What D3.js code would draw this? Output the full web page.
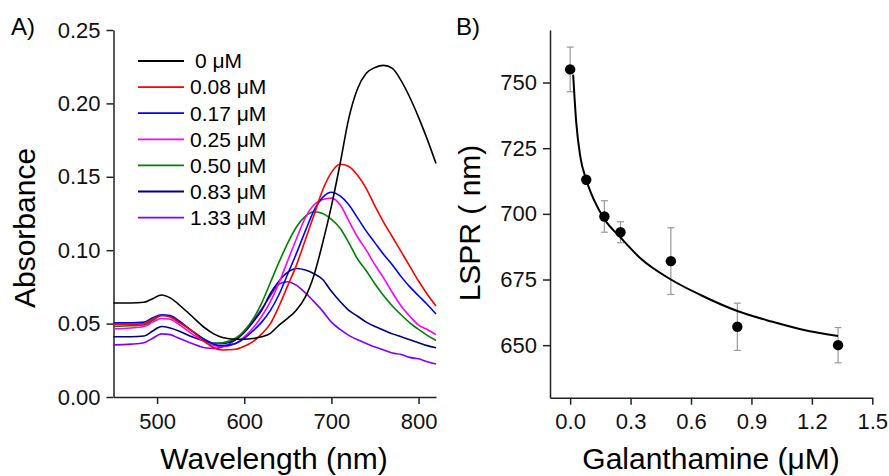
<!DOCTYPE html>
<html>
<head>
<meta charset="utf-8">
<script src="https://cdn.jsdelivr.net/npm/d3@7"></script>
<style>
  body { margin: 0; background: #fff; }
  svg { display: block; font-family: "Liberation Sans", Arial, sans-serif; }
  .axis path, .axis line { stroke: #222; stroke-width: 1.5; }
  .axis text { font-size: 22px; fill: #111; }
</style>
</head>
<body>
<svg id="chart" width="889" height="476"></svg>
<script>
// Panel A: UV-vis spectra
const wavelengths = [450, 470, 485, 495, 505, 515, 525, 540, 555, 565, 575, 590, 600, 610, 620, 630, 640, 650, 660, 670, 680, 690, 700, 710, 720, 730, 740, 750, 760, 770, 780, 790, 800, 810, 820];
const abs0 = [0.064, 0.064, 0.0645, 0.067, 0.0695, 0.0675, 0.063, 0.055, 0.047, 0.043, 0.0405, 0.0393, 0.0393, 0.0398, 0.041, 0.0434, 0.049, 0.0537, 0.0593, 0.068, 0.083, 0.105, 0.13, 0.159, 0.19, 0.21, 0.2205, 0.2245, 0.2259, 0.2238, 0.2155, 0.204, 0.1905, 0.1755, 0.159];
const abs008 = [0.0495, 0.0495, 0.05, 0.053, 0.0555, 0.0545, 0.051, 0.045, 0.0375, 0.0335, 0.032, 0.0325, 0.0345, 0.0377, 0.043, 0.05, 0.062, 0.076, 0.09, 0.107, 0.124, 0.141, 0.153, 0.1585, 0.157, 0.151, 0.142, 0.13, 0.119, 0.109, 0.099, 0.089, 0.079, 0.07, 0.062];
const abs017 = [0.0505, 0.0505, 0.051, 0.054, 0.056, 0.0555, 0.052, 0.045, 0.039, 0.036, 0.035, 0.0365, 0.04, 0.045, 0.051, 0.059, 0.07, 0.084, 0.098, 0.113, 0.127, 0.136, 0.1395, 0.137, 0.131, 0.122, 0.113, 0.105, 0.097, 0.09, 0.082, 0.075, 0.069, 0.063, 0.0565];
const abs025 = [0.0465, 0.047, 0.048, 0.051, 0.0535, 0.053, 0.0495, 0.043, 0.0375, 0.035, 0.0345, 0.0365, 0.041, 0.047, 0.055, 0.065, 0.078, 0.093, 0.108, 0.122, 0.131, 0.1345, 0.1355, 0.131, 0.12, 0.109, 0.1, 0.09, 0.081, 0.071, 0.062, 0.055, 0.049, 0.046, 0.0425];
const abs050 = [0.048, 0.0485, 0.049, 0.052, 0.0555, 0.055, 0.051, 0.045, 0.039, 0.0365, 0.037, 0.04, 0.045, 0.053, 0.064, 0.078, 0.092, 0.105, 0.116, 0.123, 0.1262, 0.125, 0.121, 0.115, 0.105, 0.094, 0.086, 0.077, 0.069, 0.062, 0.056, 0.0505, 0.046, 0.042, 0.0385];
const abs083 = [0.041, 0.041, 0.0415, 0.045, 0.048, 0.047, 0.045, 0.041, 0.038, 0.0366, 0.0365, 0.039, 0.044, 0.051, 0.059, 0.0705, 0.079, 0.085, 0.0875, 0.0865, 0.084, 0.08, 0.072, 0.065, 0.059, 0.055, 0.051, 0.048, 0.0455, 0.043, 0.041, 0.039, 0.037, 0.035, 0.0335];
const abs133 = [0.0355, 0.036, 0.037, 0.04, 0.043, 0.0425, 0.04, 0.0365, 0.0335, 0.033, 0.034, 0.039, 0.045, 0.052, 0.06, 0.069, 0.077, 0.0785, 0.076, 0.071, 0.065, 0.0585, 0.051, 0.046, 0.042, 0.039, 0.0365, 0.034, 0.032, 0.03, 0.029, 0.027, 0.026, 0.024, 0.0225];
const seriesLabels = ['0 \u03bcM', '0.08 \u03bcM', '0.17 \u03bcM', '0.25 \u03bcM', '0.50 \u03bcM', '0.83 \u03bcM', '1.33 \u03bcM'];
const seriesColors = ['#000000', '#ff0000', '#0000ff', '#ff00ff', '#008000', '#000080', '#8000ff'];
const absTicks = [0, 0.05, 0.1, 0.15, 0.2, 0.25];
const wlTicks = [500, 600, 700, 800];

// Panel B: LSPR peak vs concentration
const conc = [0, 0.08, 0.17, 0.25, 0.5, 0.83, 1.33];
const lspr = [755, 713, 699, 693, 682, 657, 650];
const lsprErr = [8.5, 0, 6, 4, 12.7, 9, 6.7];
const fitConc = [0.015, 0.03, 0.05, 0.08, 0.12, 0.17, 0.25, 0.35, 0.5, 0.65, 0.83, 1.0, 1.15, 1.33];
const fitLspr = [753, 735, 722, 713, 705, 698, 691, 683, 675, 669, 663, 659, 656, 653.5];
const concTicks = [0, 0.3, 0.6, 0.9, 1.2, 1.5];
const lsprTicks = [650, 675, 700, 725, 750];

const svg = d3.select('#chart');

// ---------- Panel A ----------
const xA = d3.scaleLinear().domain([450, 820]).range([113.5, 436]);
const yA = d3.scaleLinear().domain([0, 0.25]).range([397, 30]);

svg.append('g')
  .attr('class', 'axis')
  .attr('transform', `translate(0,${yA(0)})`)
  .call(d3.axisBottom(xA).tickValues(wlTicks).tickSize(7).tickPadding(6).tickSizeOuter(0))
  .selectAll('text').attr('dy', '0.85em');

svg.append('g')
  .attr('class', 'axis')
  .attr('transform', `translate(${xA(450)},0)`)
  .call(d3.axisLeft(yA).tickValues(absTicks).tickFormat(d3.format('.2f')).tickSize(7).tickPadding(6).tickSizeOuter(0));

const spectra = [abs0, abs008, abs017, abs025, abs050, abs083, abs133];
const lineA = d3.line()
  .x((d, i) => xA(wavelengths[i]))
  .y((d) => yA(d))
  .curve(d3.curveMonotoneX);

// draw the lowest concentration last so black sits on top like the original
spectra.slice().reverse().forEach((s, k) => {
  const i = spectra.length - 1 - k;
  svg.append('path')
    .attr('d', lineA(s))
    .attr('fill', 'none')
    .attr('stroke', seriesColors[i])
    .attr('stroke-width', 1.6);
});

// Legend
const legend = svg.append('g').attr('transform', 'translate(138,61)');
seriesLabels.forEach((label, i) => {
  const row = legend.append('g').attr('transform', `translate(0,${i * 26.1})`);
  row.append('line')
    .attr('x1', 0).attr('x2', 46)
    .attr('stroke', seriesColors[i])
    .attr('stroke-width', 1.8);
  row.append('text')
    .attr('x', i === 0 ? 57 : 52)
    .attr('dy', '0.35em')
    .style('font-size', '21px')
    .text(label);
});

// Titles
svg.append('text')
  .attr('x', 274).attr('y', 469)
  .attr('text-anchor', 'middle')
  .style('font-size', '30px')
  .text('Wavelength (nm)');

svg.append('text')
  .attr('transform', 'translate(35,228) rotate(-90)')
  .attr('text-anchor', 'middle')
  .style('font-size', '30px')
  .text('Absorbance');

svg.append('text')
  .attr('x', 11).attr('y', 35)
  .style('font-size', '24px')
  .text('A)');

// ---------- Panel B ----------
const xB = d3.scaleLinear().domain([-0.1, 1.5]).range([550, 872.3]);
const yB = d3.scaleLinear().domain([630, 770]).range([397.7, 30]);

svg.append('g')
  .attr('class', 'axis')
  .attr('transform', `translate(0,${yB(630)})`)
  .call(d3.axisBottom(xB).tickValues(concTicks).tickFormat(d3.format('.1f')).tickSize(7).tickPadding(6).tickSizeOuter(0))
  .selectAll('text').attr('dy', '0.85em');

svg.append('g')
  .attr('class', 'axis')
  .attr('transform', `translate(${xB(-0.1)},0)`)
  .call(d3.axisLeft(yB).tickValues(lsprTicks).tickSize(7).tickPadding(6).tickSizeOuter(0));

// Error bars
const errG = svg.append('g')
  .attr('stroke', '#9a9a9a')
  .attr('stroke-width', 1.2);
conc.forEach((c, i) => {
  if (!lsprErr[i]) return;
  const x = xB(c);
  const y1 = yB(lspr[i] + lsprErr[i]);
  const y2 = yB(lspr[i] - lsprErr[i]);
  errG.append('line').attr('x1', x).attr('x2', x).attr('y1', y1).attr('y2', y2);
  errG.append('line').attr('x1', x - 3.5).attr('x2', x + 3.5).attr('y1', y1).attr('y2', y1);
  errG.append('line').attr('x1', x - 3.5).attr('x2', x + 3.5).attr('y1', y2).attr('y2', y2);
});

// Fit curve
const lineB = d3.line()
  .x((d, i) => xB(fitConc[i]))
  .y((d) => yB(d))
  .curve(d3.curveMonotoneX);

svg.append('path')
  .attr('d', lineB(fitLspr))
  .attr('fill', 'none')
  .attr('stroke', '#000')
  .attr('stroke-width', 2);

// Points
svg.append('g')
  .selectAll('circle')
  .data(conc)
  .enter().append('circle')
  .attr('cx', (d) => xB(d))
  .attr('cy', (d, i) => yB(lspr[i]))
  .attr('r', 5.2)
  .attr('fill', '#000');

svg.append('text')
  .attr('x', 711).attr('y', 469)
  .attr('text-anchor', 'middle')
  .style('font-size', '30px')
  .text('Galanthamine (\u03bcM)');

svg.append('text')
  .attr('transform', 'translate(480,223) rotate(-90)')
  .attr('text-anchor', 'middle')
  .style('font-size', '30px')
  .text('LSPR ( nm)');

svg.append('text')
  .attr('x', 456).attr('y', 35)
  .style('font-size', '24px')
  .text('B)');
</script>
</body>
</html>
